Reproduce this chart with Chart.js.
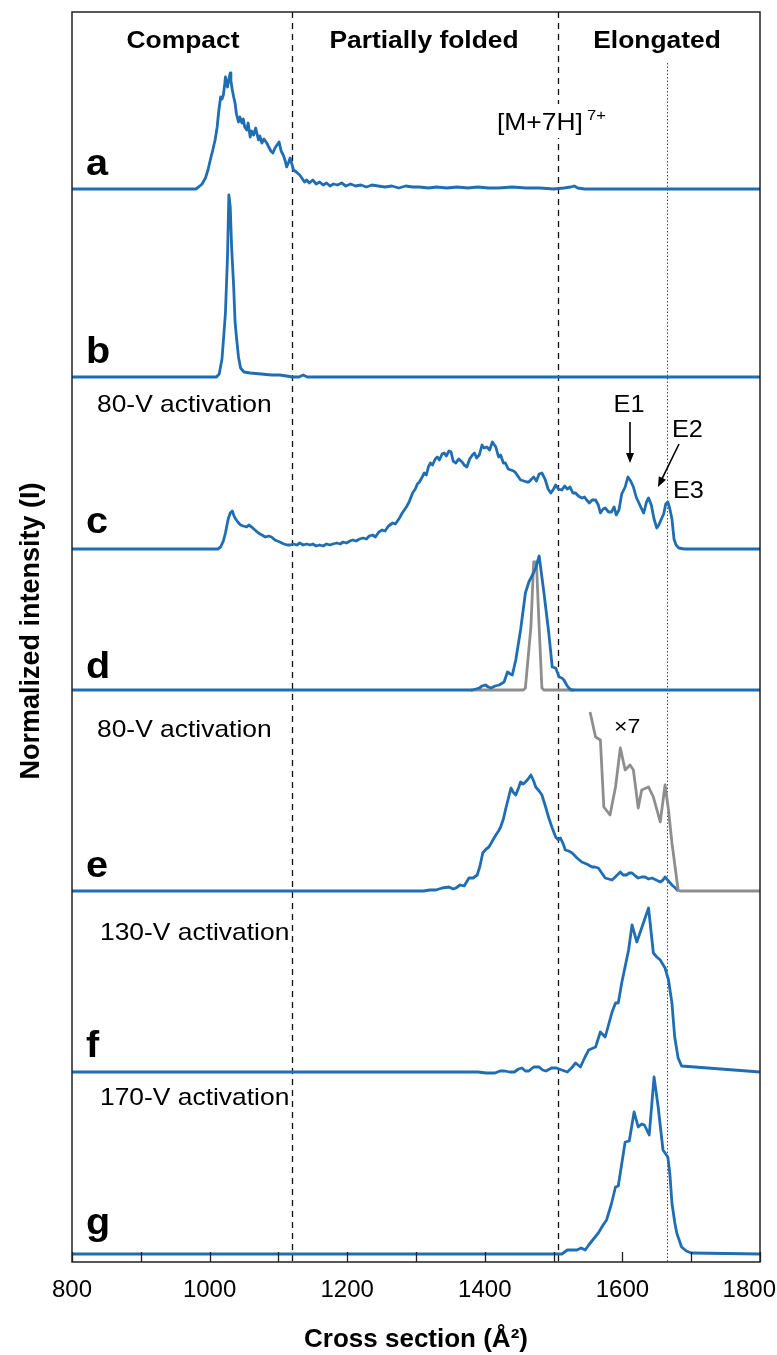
<!DOCTYPE html>
<html>
<head>
<meta charset="utf-8">
<script src="https://cdn.jsdelivr.net/npm/chart.js@4.4.1/dist/chart.umd.min.js"></script>
<style>
  html, body { margin: 0; padding: 0; background: #fff; }
  #wrap { width: 777px; height: 1355px; }
</style>
</head>
<body>
<div id="wrap"><canvas id="ccsChart"></canvas></div>
<script>
const BLUE = '#1f6db3';
const GRAY = '#8e8e8e';
const FONT = "'Liberation Sans', Arial, Helvetica, sans-serif";
const STRETCH = 1.1; // figure text is a bit wider than the font

// panels top to bottom, with the intensity range each one shows (a.u.)
const panels = ['a', 'b', 'c', 'd', 'e', 'f', 'g'];
const panelMin = [0, 0, 0, 0, 0, 0, -8];
const panelMax = [177, 188, 172, 141, 201, 181, 182];

// region borders (cross section, A^2)
const regionEdges = [1120, 1506];
const elongatedEdge = 1665;

// [cross section, intensity]
const traceA = [[800,0],[980,0],[984,2],[989,5],[994,11],[998,20],[1001,29],[1005,40],[1008,49],[1011,62],[1013,76],[1016,92],[1018,90],[1020,94],[1022,105],[1023,112],[1025,104],[1026,102],[1028,110],[1030,116],[1031,108],[1033,99],[1035,92],[1037,86],[1039,75],[1042,67],[1044,72],[1047,66],[1049,70],[1051,62],[1054,59],[1056,66],[1059,52],[1061,58],[1064,54],[1067,61],[1069,55],[1071,49],[1073,53],[1076,46],[1079,50],[1083,46],[1086,42],[1089,38],[1092,36],[1095,41],[1098,44],[1101,47],[1104,38],[1107,34],[1110,28],[1112,22],[1115,27],[1117,31],[1120,24],[1122,19],[1126,17],[1131,14],[1135,10],[1138,7],[1141,9],[1145,6],[1150,9],[1155,5],[1160,7],[1165,4],[1170,6],[1175,3],[1180,5],[1186,4],[1192,6],[1198,3],[1205,5],[1212,3],[1220,4],[1228,2],[1236,4],[1245,3],[1255,2],[1265,3],[1275,1],[1285,3],[1295,2],[1305,2],[1318,1],[1330,2],[1345,1],[1360,2],[1375,1],[1390,2],[1405,1],[1420,1],[1440,2],[1460,1],[1480,1],[1500,0],[1515,1],[1525,2],[1530,3],[1535,1],[1545,0],[1800,0]];
const traceB = [[800,0],[1010,0],[1014,3],[1018,18],[1021,45],[1023,64],[1026,120],[1028,182],[1030,170],[1032,130],[1035,90],[1037,55],[1039,40],[1042,20],[1045,9],[1050,5],[1059,4],[1075,3],[1090,2],[1102,2],[1112,1],[1120,0],[1130,0],[1136,2],[1142,0],[1800,0]];
const traceC = [[800,0],[1012,0],[1016,2],[1020,8],[1023,16],[1027,30],[1030,36],[1033,38],[1035,34],[1037,31],[1041,27],[1045,24],[1049,23],[1054,22],[1057,24],[1061,22],[1066,19],[1071,16],[1076,14],[1081,12],[1086,13],[1090,12],[1095,9],[1102,7],[1108,5],[1113,4],[1117,4],[1122,5],[1127,4],[1131,6],[1136,4],[1141,5],[1146,4],[1150,5],[1155,3],[1160,4],[1165,3],[1170,5],[1175,4],[1179,5],[1185,6],[1190,5],[1194,7],[1199,6],[1204,8],[1208,9],[1213,8],[1218,10],[1223,11],[1228,10],[1232,13],[1237,14],[1241,12],[1246,17],[1251,19],[1255,18],[1260,23],[1266,26],[1270,25],[1276,31],[1280,36],[1286,42],[1290,47],[1295,56],[1299,60],[1302,65],[1305,67],[1309,72],[1312,76],[1315,74],[1318,82],[1321,86],[1324,84],[1328,90],[1331,92],[1334,89],[1338,95],[1341,96],[1344,93],[1348,98],[1351,97],[1354,88],[1358,86],[1362,90],[1367,87],[1370,84],[1374,82],[1378,90],[1382,94],[1385,96],[1388,91],[1392,94],[1396,104],[1399,101],[1403,102],[1407,99],[1411,107],[1414,104],[1416,102],[1420,92],[1423,94],[1427,86],[1430,86],[1434,80],[1438,79],[1442,78],[1445,76],[1449,72],[1452,69],[1457,68],[1461,67],[1464,67],[1468,70],[1471,72],[1475,68],[1479,75],[1483,76],[1486,72],[1488,69],[1492,60],[1496,56],[1500,60],[1503,64],[1507,60],[1512,59],[1516,63],[1520,60],[1524,62],[1528,56],[1532,56],[1536,53],[1541,51],[1545,52],[1548,49],[1552,46],[1556,49],[1561,49],[1565,44],[1568,36],[1572,40],[1575,41],[1580,37],[1584,37],[1588,42],[1591,34],[1595,39],[1599,55],[1604,62],[1608,72],[1612,68],[1616,62],[1620,52],[1624,46],[1628,40],[1631,36],[1635,47],[1638,51],[1642,44],[1646,30],[1650,21],[1653,24],[1656,29],[1660,35],[1663,45],[1666,47],[1669,40],[1672,30],[1675,10],[1678,4],[1682,1],[1690,0],[1800,0]];
const traceD = [[800,0],[1382,0],[1392,2],[1396,4],[1401,5],[1405,3],[1409,2],[1415,4],[1421,5],[1428,8],[1433,18],[1437,16],[1440,15],[1445,30],[1452,60],[1459,97],[1464,108],[1470,116],[1474,122],[1479,134],[1486,97],[1493,57],[1498,23],[1503,22],[1508,13],[1512,12],[1515,10],[1519,5],[1522,2],[1526,0],[1800,0]];
const traceDRef = [[1380,0],[1456,0],[1459,2],[1467,63],[1471,128],[1475,128],[1479,63],[1483,2],[1486,0],[1530,0]];
const traceE = [[800,0],[1311,0],[1320,1],[1329,1],[1338,3],[1348,4],[1354,2],[1358,3],[1364,6],[1370,5],[1377,13],[1383,13],[1389,16],[1393,25],[1397,38],[1402,42],[1406,44],[1411,50],[1416,56],[1420,60],[1423,64],[1427,72],[1430,81],[1434,92],[1438,103],[1441,99],[1445,96],[1449,103],[1452,109],[1456,107],[1459,109],[1463,112],[1467,116],[1471,110],[1474,104],[1479,100],[1483,96],[1488,85],[1493,73],[1498,63],[1503,54],[1507,51],[1510,53],[1514,47],[1517,41],[1522,40],[1527,38],[1534,33],[1541,29],[1548,27],[1556,24],[1560,24],[1565,23],[1570,18],[1575,13],[1580,12],[1585,11],[1591,15],[1597,19],[1601,16],[1606,16],[1610,18],[1614,18],[1619,15],[1623,13],[1628,14],[1633,14],[1638,12],[1643,13],[1649,11],[1655,9],[1659,11],[1662,14],[1667,10],[1672,6],[1677,3],[1681,0]];
const traceEx7 = [[1553,179],[1561,154],[1568,151],[1573,84],[1582,76],[1590,104],[1597,143],[1604,121],[1611,126],[1616,121],[1623,83],[1628,101],[1638,104],[1645,94],[1655,69],[1662,106],[1667,81],[1672,48],[1681,1],[1684,0],[1800,0]];
const traceF = [[800,0],[1390,0],[1402,-1],[1415,-1],[1422,1],[1429,1],[1436,0],[1443,0],[1449,3],[1454,4],[1459,1],[1464,1],[1471,5],[1479,5],[1484,2],[1489,1],[1497,4],[1504,4],[1512,2],[1520,0],[1526,4],[1532,9],[1539,5],[1545,14],[1551,22],[1561,25],[1568,40],[1575,35],[1585,60],[1590,69],[1594,69],[1599,89],[1609,122],[1614,147],[1621,130],[1630,148],[1638,164],[1645,119],[1650,115],[1655,112],[1662,104],[1667,92],[1672,69],[1676,35],[1681,14],[1686,6],[1800,0]];
const traceG = [[800,0],[1512,0],[1520,4],[1534,4],[1540,6],[1546,4],[1551,9],[1558,15],[1565,21],[1571,28],[1577,34],[1584,50],[1590,67],[1594,68],[1599,90],[1604,112],[1610,113],[1617,142],[1623,127],[1628,130],[1632,129],[1639,119],[1646,177],[1652,147],[1659,104],[1666,97],[1669,80],[1672,51],[1676,32],[1679,21],[1686,7],[1693,3],[1700,1],[1800,0]];

const series = [
  { panel: 'a', points: traceA, color: BLUE, order: 0 },
  { panel: 'b', points: traceB, color: BLUE, order: 0 },
  { panel: 'c', points: traceC, color: BLUE, order: 0 },
  { panel: 'd', points: traceDRef, color: GRAY, order: 1 },
  { panel: 'd', points: traceD, color: BLUE, order: 0 },
  { panel: 'e', points: traceE, color: BLUE, order: 1 },
  { panel: 'e', points: traceEx7, color: GRAY, order: 0 },
  { panel: 'f', points: traceF, color: BLUE, order: 0 },
  { panel: 'g', points: traceG, color: BLUE, order: 0 }
];

const datasets = series.map(s => ({
  data: s.points.map(([x, y]) => ({ x, y })),
  yAxisID: 'y' + s.panel,
  borderColor: s.color,
  borderWidth: 2.8,
  borderJoinStyle: 'round',
  pointRadius: 0,
  tension: 0,
  fill: false,
  clip: false,
  order: s.order
}));

const scales = {
  x: {
    type: 'linear',
    position: 'bottom',
    min: 800,
    max: 1800,
    grid: { display: false, drawTicks: false },
    border: { display: false },
    ticks: {
      stepSize: 100,
      autoSkip: false,
      maxRotation: 0,
      padding: 14,
      color: '#000',
      font: { family: FONT, size: 24 },
      callback: v => (v % 200 === 0 ? v : '')
    },
    title: {
      display: true,
      text: 'Cross section (Å²)',
      color: '#000',
      font: { family: FONT, size: 26, weight: 'bold' },
      padding: { top: 4, bottom: 0 }
    },
    afterFit(scale) {
      scale.height = 93;
      scale.paddingLeft = 0;
      scale.paddingRight = 0;
    }
  }
};
// stacked axes defined later are placed higher, so add them bottom-up
for (let i = panels.length - 1; i >= 0; i--) {
  scales['y' + panels[i]] = {
    type: 'linear',
    display: false,
    stack: 'panels',
    stackWeight: panelMax[i] - panelMin[i],
    min: panelMin[i],
    max: panelMax[i]
  };
}

function text(ctx, str, x, y, size, weight, align) {
  ctx.save();
  ctx.translate(x, y);
  ctx.scale(STRETCH, 1);
  ctx.font = (weight || '') + ' ' + size + 'px ' + FONT;
  ctx.textAlign = align || 'left';
  ctx.textBaseline = 'alphabetic';
  ctx.fillText(str, 0, 0);
  ctx.restore();
}

function arrow(ctx, x1, y1, x2, y2) {
  const a = Math.atan2(y2 - y1, x2 - x1);
  const len = 10, half = 4;
  ctx.beginPath();
  ctx.moveTo(x1, y1);
  ctx.lineTo(x2 - Math.cos(a) * len * 0.8, y2 - Math.sin(a) * len * 0.8);
  ctx.stroke();
  ctx.beginPath();
  ctx.moveTo(x2, y2);
  ctx.lineTo(x2 - Math.cos(a) * len - Math.sin(a) * half, y2 - Math.sin(a) * len + Math.cos(a) * half);
  ctx.lineTo(x2 - Math.cos(a) * len + Math.sin(a) * half, y2 - Math.sin(a) * len - Math.cos(a) * half);
  ctx.closePath();
  ctx.fill();
}

const figureDecor = {
  id: 'figureDecor',
  beforeDraw(chart) {
    // keep the last axis label inside the figure
    const x = chart.scales.x;
    const items = x.getLabelItems(chart.chartArea);
    const last = items[items.length - 1];
    if (last && last.options) {
      last.options.textAlign = 'right';
      last.options.translation[0] = Math.min(last.options.translation[0] + 26, chart.width - 1);
    }
  },
  beforeDatasetsDraw(chart) {
    const { ctx, chartArea: ca, scales: { x } } = chart;
    ctx.save();
    // region borders
    ctx.strokeStyle = '#111';
    ctx.lineWidth = 1.3;
    ctx.setLineDash([6, 5]);
    regionEdges.forEach(v => {
      const px = Math.round(x.getPixelForValue(v)) + 0.5;
      ctx.beginPath();
      ctx.moveTo(px, ca.top);
      ctx.lineTo(px, ca.bottom);
      ctx.stroke();
    });
    ctx.strokeStyle = '#444';
    ctx.lineWidth = 1;
    ctx.setLineDash([1.5, 2]);
    const pd = Math.round(x.getPixelForValue(elongatedEdge)) + 0.5;
    ctx.beginPath();
    ctx.moveTo(pd, ca.top + 51);
    ctx.lineTo(pd, ca.bottom);
    ctx.stroke();
    ctx.setLineDash([]);

    // ion label sits on a white box over the border line
    ctx.fillStyle = '#fff';
    ctx.fillRect(496, 104, 116, 34);
    ctx.fillStyle = '#000';
    text(ctx, '[M+7H]', 497, 130, 24);
    text(ctx, '7+', 587, 120, 15);
    ctx.restore();
  },
  afterDraw(chart) {
    const { ctx, chartArea: ca, scales: { x } } = chart;
    ctx.save();
    // frame
    ctx.strokeStyle = '#222';
    ctx.lineWidth = 1.5;
    ctx.strokeRect(ca.left, ca.top, ca.right - ca.left, ca.bottom - ca.top);
    // inward tick marks
    ctx.lineWidth = 1.3;
    x.ticks.forEach(t => {
      const px = Math.round(x.getPixelForValue(t.value)) + 0.5;
      ctx.beginPath();
      ctx.moveTo(px, ca.bottom);
      ctx.lineTo(px, ca.bottom - 10);
      ctx.stroke();
    });

    ctx.fillStyle = '#000';
    // region names
    text(ctx, 'Compact', 183, 48, 24, 'bold', 'center');
    text(ctx, 'Partially folded', 424, 48, 24, 'bold', 'center');
    text(ctx, 'Elongated', 657, 48, 24, 'bold', 'center');

    // panel letters
    const letterBase = [175, 363, 533, 678, 877, 1057, 1234];
    panels.forEach((p, i) => text(ctx, p, 86, letterBase[i], 36, 'bold'));

    // activation notes
    text(ctx, '80-V activation', 97, 412, 24);
    text(ctx, '80-V activation', 97, 737, 24);
    text(ctx, '130-V activation', 100, 940, 24);
    text(ctx, '170-V activation', 100, 1105, 24);

    // elongated conformers
    text(ctx, 'E1', 629, 412, 23, '', 'center');
    text(ctx, 'E2', 672, 437, 23);
    text(ctx, 'E3', 673, 498, 23);
    text(ctx, '×7', 614, 733, 21);
    ctx.strokeStyle = '#000';
    ctx.lineWidth = 1.6;
    arrow(ctx, 630, 422, 630, 463);
    arrow(ctx, 679, 444, 658, 487);

    // y title
    ctx.translate(29, 631);
    ctx.rotate(-Math.PI / 2);
    ctx.font = 'bold 27px ' + FONT;
    ctx.textAlign = 'center';
    ctx.textBaseline = 'alphabetic';
    ctx.fillText('Normalized intensity (I)', 0, 10);
    ctx.restore();
  }
};

new Chart(document.getElementById('ccsChart').getContext('2d'), {
  type: 'line',
  data: { datasets: datasets },
  options: {
    responsive: true,
    maintainAspectRatio: false,
    animation: false,
    layout: { padding: { left: 72, right: 17, top: 12, bottom: 0 } },
    plugins: {
      legend: { display: false },
      tooltip: { enabled: false }
    },
    scales: scales
  },
  plugins: [figureDecor]
});
</script>
</body>
</html>
